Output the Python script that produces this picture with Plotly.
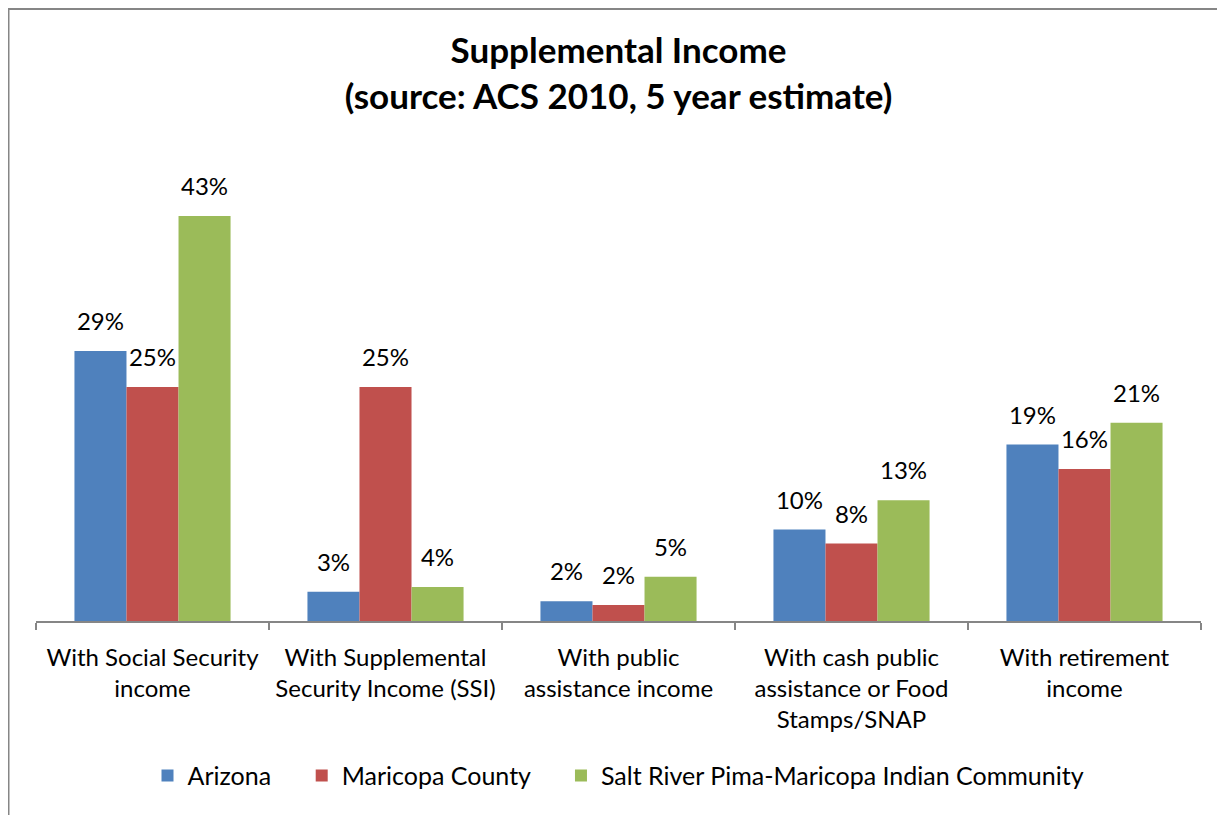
import plotly.graph_objects as go

categories = [
    "With Social Security<br>income",
    "With Supplemental<br>Security Income (SSI)",
    "With public<br>assistance income",
    "With cash public<br>assistance or Food<br>Stamps/SNAP",
    "With retirement<br>income",
]
series_names = ["Arizona", "Maricopa County", "Salt River Pima-Maricopa Indian Community"]
arizona = [0.286, 0.031, 0.021, 0.097, 0.187]
maricopa = [0.248, 0.248, 0.017, 0.082, 0.161]
salt_river = [0.429, 0.036, 0.047, 0.128, 0.210]
colors = ["#4F81BD", "#C0504D", "#9BBB59"]

FONT = "Lato"
PAD = "\u00a0" * 4
fig = go.Figure()
for i, (name, vals, col) in enumerate(zip(series_names, [arizona, maricopa, salt_river], colors)):
    legend_name = name + (PAD if i < len(series_names) - 1 else "")
    fig.add_trace(go.Bar(x=categories, y=vals, name=legend_name,
                         marker=dict(color=col, line=dict(width=0)), offsetgroup=name))
for name, vals in zip(series_names, [arizona, maricopa, salt_river]):
    fig.add_trace(go.Scatter(x=categories, y=vals, mode="markers+text", showlegend=False,
                             texttemplate="%{y:.0%}", textposition="top center",
                             marker=dict(size=22, color="rgba(0,0,0,0)"),
                             textfont=dict(family=FONT, size=24, color="#000000"),
                             offsetgroup=name, hoverinfo="skip"))

fig.update_layout(
    width=1217, height=807,
    paper_bgcolor="white", plot_bgcolor="white",
    barmode="group", bargap=0.33, bargroupgap=0,
    scattermode="group", scattergap=0.33,
    margin=dict(l=28, r=24, t=141, b=194, pad=0),
    title=dict(text="<b>Supplemental Income<br>(source: ACS 2010, 5 year estimate)</b>",
               x=0.5, xanchor="center", xref="paper", y=0.9314, yanchor="middle",
               font=dict(family=FONT, size=35, color="#000000")),
    font=dict(family=FONT, size=24, color="#000000"),
    showlegend=True,
    legend=dict(orientation="h", x=0.5, xanchor="center", y=-0.328, yanchor="middle",
                font=dict(family=FONT, size=25, color="#000000"), itemsizing="constant",
                traceorder="normal"),
    xaxis=dict(showline=True, linecolor="#868686", linewidth=1.5, ticks="outside",
               tickson="boundaries", ticklen=7, tickcolor="#868686", tickwidth=1.5,
               showgrid=False, tickfont=dict(family=FONT, size=24, color="#000000"),
               ticklabelstandoff=14),
    yaxis=dict(range=[0, 0.5], visible=False, showgrid=False),
    shapes=[dict(type="rect", xref="paper", yref="paper", x0=-0.0236, x1=1.3, y0=-0.6, y1=1.2966,
                 line=dict(color="#868686", width=2), fillcolor="rgba(0,0,0,0)", layer="above")],
)

fig.write_html("out.html")
